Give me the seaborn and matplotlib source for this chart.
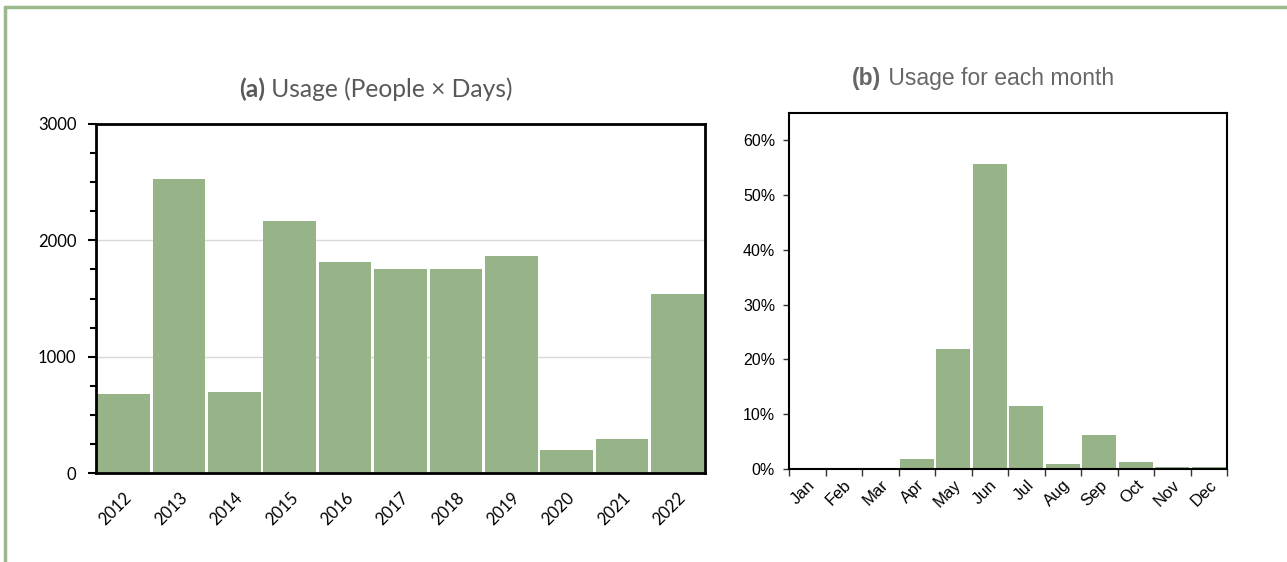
import matplotlib
matplotlib.use("Agg")
import matplotlib.pyplot as plt
from matplotlib.lines import Line2D
from matplotlib.ticker import MultipleLocator, FixedLocator
import seaborn as sns
import pandas as pd

# Yearly usage (people x days)
years = ["2012", "2013", "2014", "2015", "2016", "2017",
         "2018", "2019", "2020", "2021", "2022"]
usage = [675, 2525, 700, 2165, 1815, 1750, 1750, 1865, 200, 295, 1540]

# Share of usage per month (%)
months = ["Jan", "Feb", "Mar", "Apr", "May", "Jun",
          "Jul", "Aug", "Sep", "Oct", "Nov", "Dec"]
share = [0.0, 0.0, 0.0, 1.8, 22.0, 55.7, 11.5, 0.9, 6.2, 1.2, 0.35, 0.35]
share_ticks = [0, 10, 20, 30, 40, 50, 60]

GREEN = "#97B388"
FRAME = "#9CB98C"
ARIAL = ["Liberation Sans", "DejaVu Sans"]

sns.set_theme(style="white")
plt.rcParams["font.family"] = ["Lato", "DejaVu Sans"]

fig = plt.figure(figsize=(12.87, 5.62), dpi=100)
W, H = 1287, 562

def box(l, t, r, b):
    return [l / W, 1 - b / H, (r - l) / W, (b - t) / H]

# outer frame (top and left edges)
fig.add_artist(Line2D([5 / W, 1], [1 - 7 / H, 1 - 7 / H], color=FRAME, lw=2.5,
                      transform=fig.transFigure))
fig.add_artist(Line2D([5 / W, 5 / W], [0, 1 - 7 / H], color=FRAME, lw=2.5,
                      transform=fig.transFigure))

fig.canvas.draw()
renderer = fig.canvas.get_renderer()

def split_title(xc, y, bold, rest, size, color, family=None):
    kw = dict(fontsize=size, color=color, va="center", ha="left")
    if family:
        kw["family"] = family
    tb = fig.text(0, 1 - y / H, bold, fontweight="bold", **kw)
    tr = fig.text(0, 1 - y / H, rest, **kw)
    wb = tb.get_window_extent(renderer).width
    wr = tr.get_window_extent(renderer).width
    x0 = xc - (wb + wr) / 2
    tb.set_x(x0 / W)
    tr.set_x((x0 + wb) / W)

# ---------------- (a) yearly usage ----------------
ax1 = fig.add_axes(box(96, 124, 705, 473))
df1 = pd.DataFrame({"year": years, "usage": usage})
sns.barplot(data=df1, x="year", y="usage", color=GREEN, saturation=1,
            width=0.95, edgecolor="none", ax=ax1, zorder=2)
ax1.set_xlim(-0.5, len(years) - 0.5)
ax1.set_ylim(0, 3000)
ax1.yaxis.set_major_locator(MultipleLocator(1000))
ax1.yaxis.set_minor_locator(MultipleLocator(250))
ax1.grid(axis="y", which="major", color="#d9d9d9", lw=1, zorder=0)
ax1.set_axisbelow(True)
ax1.tick_params(axis="y", which="major", left=True, length=6, width=1.5,
                color="black", labelsize=12, pad=8, labelcolor="black")
ax1.tick_params(axis="y", which="minor", left=True, length=4, width=1.5,
                color="black")
ax1.tick_params(axis="x", bottom=False, pad=6)
ax1.set_xticks(range(len(years)), years, rotation=45, ha="right",
               rotation_mode="anchor", fontsize=12, color="black")
for s in ax1.spines.values():
    s.set_color("black")
    s.set_linewidth(2)
ax1.set_xlabel("")
ax1.set_ylabel("")

split_title(376, 89, "(a)", " Usage (People × Days)", 17.7, "#595959")

# ---------------- (b) monthly share ----------------
ax2 = fig.add_axes(box(789, 113, 1227, 469))
df2 = pd.DataFrame({"month": months, "share": share})
sns.barplot(data=df2, x="month", y="share", color=GREEN, saturation=1,
            width=0.92, edgecolor="none", ax=ax2, zorder=2)
ax2.set_xlim(-0.5, len(months) - 0.5)
ax2.set_ylim(0, 65)
ax2.set_yticks(share_ticks, [f"{v}%" for v in share_ticks], family=ARIAL,
               fontsize=11.5, color="black")
ax2.set_xticks(range(len(months)), months, rotation=45, ha="right",
               rotation_mode="anchor", family=ARIAL, fontsize=12,
               color="black")
ax2.xaxis.set_minor_locator(FixedLocator([i - 0.5 for i in range(len(months) + 1)]))
ax2.tick_params(axis="x", which="major", bottom=False, length=0, pad=6)
ax2.tick_params(axis="x", which="minor", bottom=True, length=5, width=1,
                color="#333333")
ax2.tick_params(axis="y", which="major", left=True, length=4, width=1,
                color="#333333", pad=6)
for s in ax2.spines.values():
    s.set_color("black")
    s.set_linewidth(1.5)
ax2.set_xlabel("")
ax2.set_ylabel("")

split_title(983, 78, "(b)", " Usage for each month", 16.5, "#666666", ARIAL)

fig.savefig("out.png", dpi=100, facecolor="white")
